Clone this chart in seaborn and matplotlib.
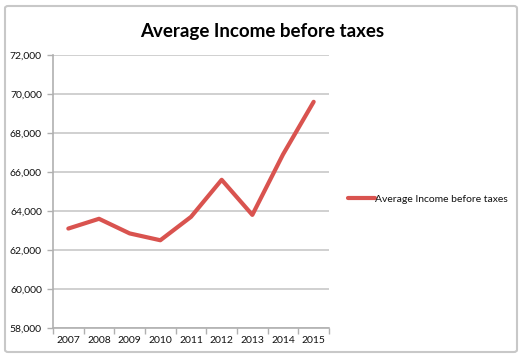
import matplotlib
matplotlib.use("Agg")
import matplotlib.pyplot as plt
from matplotlib.patches import FancyBboxPatch
from matplotlib.ticker import FuncFormatter, FixedLocator
import seaborn as sns
import pandas as pd

years = ["2007", "2008", "2009", "2010", "2011", "2012", "2013", "2014", "2015"]
income = [63100, 63600, 62850, 62500, 63700, 65600, 63800, 66900, 69600]
series_name = "Average Income before taxes"
y_ticks = [58000, 60000, 62000, 64000, 66000, 68000, 70000, 72000]

sns.set_theme(style="white")
plt.rcParams['font.family'] = ['Lato', 'DejaVu Sans']

df = pd.DataFrame({"Year": years, "Income": income, "Series": series_name})

fig = plt.figure(figsize=(5.25, 3.59), dpi=100)
fig.patch.set_facecolor("white")
border = FancyBboxPatch((5/525, 7/359), 512/525, 346/359,
                        boxstyle="round,pad=0,rounding_size=0.006",
                        transform=fig.transFigure, facecolor="none",
                        edgecolor="#c8c8c8", linewidth=1.5)
fig.patches.append(border)

ax = fig.add_axes([53/525, 1 - 328/359, 276/525, 273/359])
sns.lineplot(data=df, x="Year", y="Income", hue="Series",
             palette=["#d9534f"], linewidth=3, ax=ax, sort=False)

ax.set_xlim(-0.5, 8.5)
ax.set_ylim(58000, 72000)
ax.set_yticks(y_ticks)
ax.yaxis.set_major_formatter(FuncFormatter(lambda v, p: f"{int(v):,}"))
ax.grid(axis="y", color="#c8c8c8", linewidth=1.2)
ax.set_axisbelow(True)

ax.xaxis.set_major_locator(FixedLocator(range(len(years))))
ax.set_xticklabels(years)
ax.xaxis.set_minor_locator(FixedLocator([i - 0.5 for i in range(len(years) + 1)]))
ax.tick_params(axis="x", which="major", length=0, labelsize=7.5, pad=6, labelcolor="#111111")
ax.tick_params(axis="x", which="minor", length=4, color="#b0b0b0", width=1, direction="out", bottom=True)
ax.tick_params(axis="y", which="major", length=4, color="#b0b0b0", width=1, direction="out",
               labelsize=7.5, pad=4, left=True, labelcolor="#111111")

for s in ["top", "right"]:
    ax.spines[s].set_visible(False)
for s in ["left", "bottom"]:
    ax.spines[s].set_color("#b0b0b0")
    ax.spines[s].set_linewidth(1.2)

ax.set_xlabel("")
ax.set_ylabel("")

leg = ax.legend(loc="center left", bbox_to_anchor=((348 - 53)/276, 1 - (199 - 55)/273),
                frameon=False, fontsize=7.5, handlelength=2.6, handletextpad=0.0,
                borderaxespad=0, borderpad=0, labelcolor="#111111")
leg.get_lines()[0].set_linewidth(3)

fig.text(262/525, 1 - 31/359, "Average Income before taxes", ha="center", va="center",
         fontsize=13.5, fontweight="bold", color="#000000")

fig.savefig("out.png", dpi=100, facecolor="white")
